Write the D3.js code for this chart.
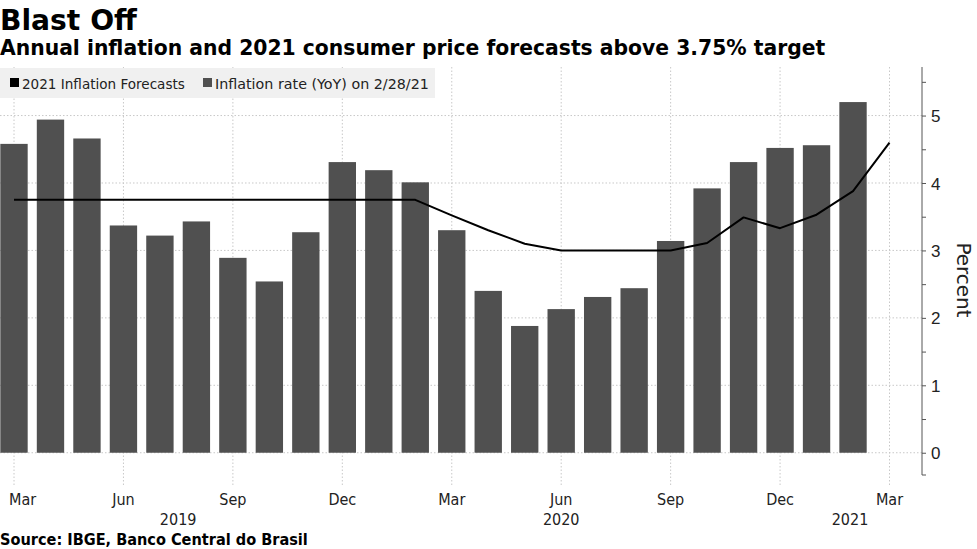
<!DOCTYPE html>
<html>
<head>
<meta charset="utf-8">
<script src="https://cdn.jsdelivr.net/npm/d3@7"></script>
<style>
  body { margin: 0; background: #fff; }
  svg { display: block; font-family: "DejaVu Sans", Verdana, sans-serif; }
  .grid line { stroke: #c8c8c8; stroke-width: 1; stroke-dasharray: 1.5 2; }
  .axis-y path { display: none; }
  .axis-y line { stroke: #555; }
  .axis-y text { font-size: 17px; fill: #222; }
  .month-label, .year-label { font-family: "DejaVu Sans Condensed", "Liberation Sans Narrow", "DejaVu Sans", sans-serif; font-size: 16px; fill: #222; }
</style>
</head>
<body>
<svg id="chart" width="977" height="549"></svg>
<script>
const months = [
  "2019-03", "2019-04", "2019-05", "2019-06", "2019-07", "2019-08", "2019-09", "2019-10",
  "2019-11", "2019-12", "2020-01", "2020-02", "2020-03", "2020-04", "2020-05", "2020-06",
  "2020-07", "2020-08", "2020-09", "2020-10", "2020-11", "2020-12", "2021-01", "2021-02",
  "2021-03",
];

// YoY inflation rate, one bar per month (Mar 2019 - Feb 2021)
const inflationRate = [
  4.58, 4.94, 4.66, 3.37, 3.22, 3.43, 2.89, 2.54, 3.27, 4.31, 4.19, 4.01,
  3.30, 2.40, 1.88, 2.13, 2.31, 2.44, 3.14, 3.92, 4.31, 4.52, 4.56, 5.20,
];

// 2021 inflation forecast (Mar 2019 - Mar 2021)
const forecasts = [
  3.75, 3.75, 3.75, 3.75, 3.75, 3.75, 3.75, 3.75, 3.75, 3.75, 3.75, 3.75,
  3.52, 3.30, 3.10, 3.00, 3.00, 3.00, 3.00, 3.11, 3.49, 3.33, 3.53, 3.88,
  4.60,
];

const tickMonths = ["2019-03", "2019-06", "2019-09", "2019-12", "2020-03", "2020-06", "2020-09", "2020-12", "2021-03"];
const tickLabels = ["Mar", "Jun", "Sep", "Dec", "Mar", "Jun", "Sep", "Dec", "Mar"];
const yearLabels = ["2019", "2020", "2021"];
const yearSpans = [["2019-03", "2019-12"], ["2020-06", "2020-06"], ["2021-01", "2021-03"]];
const yTicks = [0, 1, 2, 3, 4, 5];
const yMinorTicks = [0.5, 1.5, 2.5, 3.5, 4.5, 5.5];
const legendLabels = ["2021 Inflation Forecasts", "Inflation rate (YoY) on 2/28/21"];
const legendColors = ["#000", "#505050"];

const width = 977;
const plotRight = 922;
const plotTop = 67;
const plotBottom = 475;

const svg = d3.select("#chart");

const x = d3.scalePoint().domain(months).range([14, 889.5]);
const y = d3.scaleLinear().domain([-0.33, 5.72]).range([plotBottom, plotTop]);
const barWidth = x.step() * 0.75;

function fitWidth(text, target) {
  const size = parseFloat(text.style("font-size"));
  const len = text.node().getComputedTextLength();
  text.style("font-size", `${(size * target) / len}px`);
}

// titles
const title = svg.append("text")
  .attr("x", 0).attr("y", 30)
  .style("font-weight", "bold").style("font-size", "28px")
  .text("Blast Off");
fitWidth(title, 137);

const subtitle = svg.append("text")
  .attr("x", 0).attr("y", 55)
  .style("font-weight", "bold").style("font-size", "19px")
  .text("Annual inflation and 2021 consumer price forecasts above 3.75% target");
fitWidth(subtitle, 826);

// grid
svg.append("g").attr("class", "grid")
  .selectAll("line")
  .data(yTicks)
  .join("line")
  .attr("x1", 0).attr("x2", plotRight)
  .attr("y1", (d) => y(d)).attr("y2", (d) => y(d));

svg.append("g").attr("class", "grid")
  .selectAll("line")
  .data(tickMonths)
  .join("line")
  .attr("x1", (d) => x(d)).attr("x2", (d) => x(d))
  .attr("y1", plotTop).attr("y2", 487);

// bars
svg.append("g")
  .selectAll("rect")
  .data(inflationRate)
  .join("rect")
  .attr("x", (d, i) => x(months[i]) - barWidth / 2)
  .attr("width", barWidth)
  .attr("y", (d) => y(d))
  .attr("height", (d) => y(0) - y(d))
  .attr("fill", legendColors[1]);

// forecast line
const line = d3.line()
  .x((d, i) => x(months[i]))
  .y((d) => y(d));

svg.append("path")
  .datum(forecasts)
  .attr("fill", "none")
  .attr("stroke", legendColors[0])
  .attr("stroke-width", 2)
  .attr("stroke-linejoin", "round")
  .attr("d", line);

// right axis
svg.append("line")
  .attr("x1", plotRight).attr("x2", plotRight)
  .attr("y1", plotTop).attr("y2", plotBottom)
  .attr("stroke", "#555");
svg.append("line")
  .attr("x1", plotRight).attr("x2", plotRight + 4)
  .attr("y1", plotBottom).attr("y2", plotBottom)
  .attr("stroke", "#555");

svg.append("g")
  .attr("class", "axis-y")
  .attr("transform", `translate(${plotRight},0)`)
  .call(d3.axisRight(y).tickValues(yTicks).tickSize(4).tickPadding(5).tickFormat(d3.format("d")))
  .call((g) => g.selectAll("text").attr("dy", "0.36em"));

svg.append("g")
  .attr("class", "axis-y")
  .attr("transform", `translate(${plotRight},0)`)
  .call(d3.axisRight(y).tickValues(yMinorTicks).tickSize(4).tickFormat(""));

svg.append("text")
  .attr("transform", `translate(957,280) rotate(90)`)
  .attr("text-anchor", "middle")
  .style("font-size", "20px")
  .attr("fill", "#222")
  .text("Percent");

// x labels
const monthText = svg.append("g")
  .selectAll("text")
  .data(tickMonths)
  .join("text")
  .attr("class", "month-label")
  .attr("x", (d) => x(d))
  .attr("y", 505)
  .attr("text-anchor", "middle")
  .text((d, i) => tickLabels[i]);

monthText.each(function shiftInside() {
  const box = this.getBBox();
  if (box.x < 9) {
    d3.select(this).attr("x", +this.getAttribute("x") + (9 - box.x));
  }
});

svg.append("g")
  .selectAll("text")
  .data(yearLabels)
  .join("text")
  .attr("class", "year-label")
  .attr("x", (d, i) => (x(yearSpans[i][0]) + x(yearSpans[i][1])) / 2 - (i === 2 ? 3 : 0))
  .attr("y", 525)
  .attr("text-anchor", "middle")
  .text((d) => d);

// legend
const legend = svg.append("g");
legend.append("rect")
  .attr("x", 0).attr("y", 68)
  .attr("width", 435).attr("height", 30)
  .attr("fill", "#f0f0f0");

const legendStarts = [10, 203];
legendLabels.forEach((label, i) => {
  legend.append("rect")
    .attr("x", legendStarts[i]).attr("y", 78)
    .attr("width", 9).attr("height", 9)
    .attr("fill", legendColors[i]);
  const t = legend.append("text")
    .attr("x", legendStarts[i] + 12).attr("y", 89)
    .style("font-size", "14px")
    .attr("fill", "#222")
    .text(label);
  fitWidth(t, i === 0 ? 163 : 214);
});

// source
const source = svg.append("text")
  .attr("x", 0).attr("y", 545)
  .style("font-weight", "bold").style("font-size", "14px")
  .attr("class", "source")
  .style("font-family", "\"DejaVu Sans Condensed\", \"DejaVu Sans\", sans-serif")
  .text("Source: IBGE, Banco Central do Brasil");
fitWidth(source, 308);
</script>
</body>
</html>
